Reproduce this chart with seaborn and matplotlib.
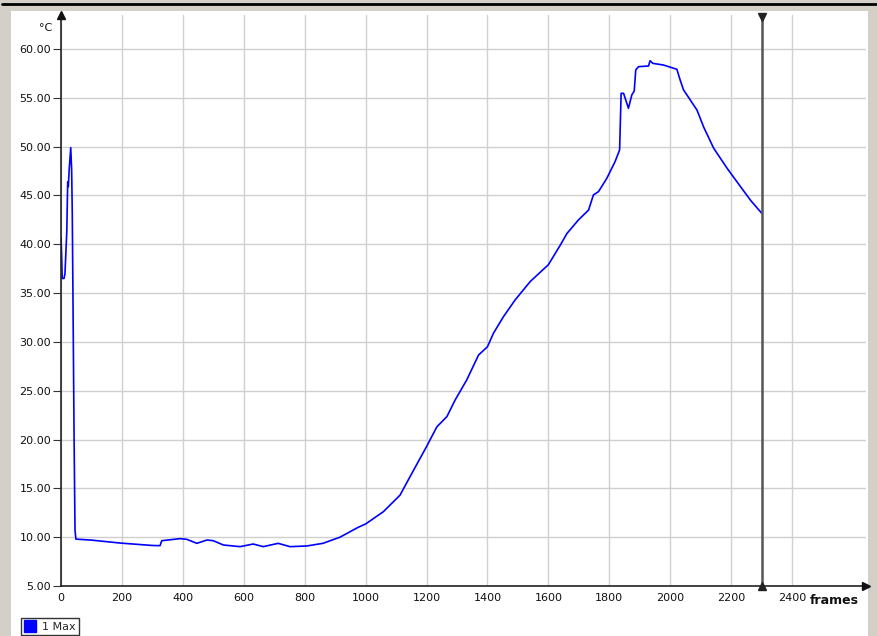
import matplotlib
matplotlib.use("Agg")
import matplotlib.pyplot as plt
import matplotlib.patches as mpatches
import matplotlib.lines as mlines
import numpy as np
import pandas as pd
import seaborn as sns

# ---- data ----
frames = [0, 2, 4, 10, 13, 19, 22, 24, 27, 32, 35, 37, 39, 43, 46, 49,
          100, 194, 300, 325, 331, 391, 413, 446, 479, 500, 533, 588, 631,
          664, 713, 752, 807, 860, 916, 975, 1000, 1058, 1113, 1146, 1200,
          1234, 1267, 1294, 1332, 1371, 1400, 1420, 1453, 1491, 1541, 1600,
          1639, 1661, 1699, 1732, 1748, 1765, 1792, 1819, 1834, 1839, 1847,
          1863, 1874, 1882, 1887, 1896, 1929, 1934, 1943, 1978, 2022, 2033,
          2044, 2055, 2077, 2088, 2110, 2143, 2187, 2231, 2264, 2300]
max_temp = [40.7, 38.9, 36.5, 36.5, 37.0, 41.3, 46.4, 45.9, 47.7, 49.9, 47.6,
            43.2, 35.7, 20.0, 10.7, 9.8,
            9.7, 9.4, 9.15, 9.13, 9.64, 9.85, 9.78, 9.37, 9.71, 9.64, 9.2,
            9.03, 9.3, 9.03, 9.37, 9.03, 9.1, 9.37, 10.0, 11.0, 11.35, 12.6,
            14.3, 16.2, 19.27, 21.3, 22.35, 24.05, 26.1, 28.66, 29.5, 30.9,
            32.6, 34.3, 36.2, 37.9, 39.9, 41.1, 42.5, 43.5, 45.05, 45.4, 46.76,
            48.46, 49.66, 55.46, 55.46, 53.93, 55.29, 55.7, 57.85, 58.19, 58.26,
            58.8, 58.53, 58.36, 57.92, 56.8, 55.8, 55.3, 54.26, 53.75, 52.0,
            49.83, 47.78, 45.9, 44.5, 43.2]
series_name = "1 Max"
x_ticks = list(range(0, 2401, 200))
y_ticks = [5, 10, 15, 20, 25, 30, 35, 40, 45, 50, 55, 60]
cursor_frame = 2300

df = pd.DataFrame({"frame": frames, "temp": max_temp})

sns.set_style("white")
plt.rcParams['font.family'] = ['DejaVu Sans']

W, H = 877, 636
fig = plt.figure(figsize=(W / 100, H / 100), dpi=100)
fig.patch.set_facecolor('#d4d0c8')

# white panel and window decorations
fig.patches.append(mpatches.Rectangle((11 / W, 0), (868 - 11) / W, (H - 11) / H,
                                      transform=fig.transFigure, facecolor='white',
                                      edgecolor='none', zorder=-5))
fig.lines.append(mlines.Line2D([2 / W, 876 / W], [1 - 4 / H, 1 - 4 / H],
                               transform=fig.transFigure, color='black', lw=2, zorder=-4))

x0, x1 = 61, 866
y0, y1 = 586, 15
ax = fig.add_axes([x0 / W, 1 - y0 / H, (x1 - x0) / W, (y0 - y1) / H])
ax.set_facecolor('none')
ax.set_zorder(2)

xmax = 2400 + (x1 - 792) / ((792 - 61) / 2400)
ymax = 60 + (49 - y1) / ((586 - 49) / 55)
ax.set_xlim(0, xmax)
ax.set_ylim(5, ymax)

sns.lineplot(data=df, x="frame", y="temp", ax=ax, color='#0000ff', lw=1.2,
             label=series_name, legend=False, zorder=3)

# grid
for xv in x_ticks:
    ax.axvline(xv, color='#d0d0d0', lw=1.0, zorder=1)
for yv in y_ticks:
    ax.axhline(yv, color='#d0d0d0', lw=1.0, zorder=1)

ax.set_xticks(x_ticks)
ax.set_yticks(y_ticks)
ax.set_xticklabels([str(v) for v in x_ticks], fontsize=8, color='#111111')
ax.set_yticklabels([f"{v:.2f}" for v in y_ticks], fontsize=8, color='#111111')
ax.tick_params(axis='x', length=0, pad=5)
ax.tick_params(axis='y', length=6, width=0.8, color='#333333', pad=1, left=True)
ax.set_xlabel("")
ax.set_ylabel("")

for s in ['top', 'right']:
    ax.spines[s].set_visible(False)
for s in ['left', 'bottom']:
    ax.spines[s].set_color('#222222')
    ax.spines[s].set_linewidth(1.2)
    ax.spines[s].set_zorder(4)

# axis arrows
ax.plot(1, 0, marker='>', color='#111111', ms=6, transform=ax.transAxes, clip_on=False, zorder=5)
ax.plot(0, 1, marker='^', color='#111111', ms=6, transform=ax.transAxes, clip_on=False, zorder=5)

# cursor line
ax.plot([cursor_frame, cursor_frame], [5, ymax - 0.2], color='#555555', lw=1.8, zorder=4, clip_on=False)
ax.plot(cursor_frame, ymax - 0.25, marker='v', color='#222222', ms=6, clip_on=False, zorder=5)
ax.plot(cursor_frame, 5, marker='^', color='#222222', ms=6, clip_on=False, zorder=5)

fig.text(46 / W, 1 - 28 / H, "°C", fontsize=8, ha='center', va='center', color='#111111')
fig.text(810 / W, 1 - 600 / H, "frames", fontsize=9, fontweight='bold',
         ha='left', va='center', color='#111111')

handle = mlines.Line2D([], [], marker='s', linestyle='none', color='#0000ff', ms=8)
leg = fig.legend([handle], [series_name], loc='lower left',
                 bbox_to_anchor=(21 / W, 1 / H), frameon=True, fancybox=False,
                 fontsize=8, borderpad=0.3, handletextpad=0.6, handlelength=1.0,
                 borderaxespad=0)
leg.get_frame().set_edgecolor('black')
leg.get_frame().set_linewidth(1.0)

fig.savefig("out.png", dpi=100, facecolor=fig.get_facecolor())
